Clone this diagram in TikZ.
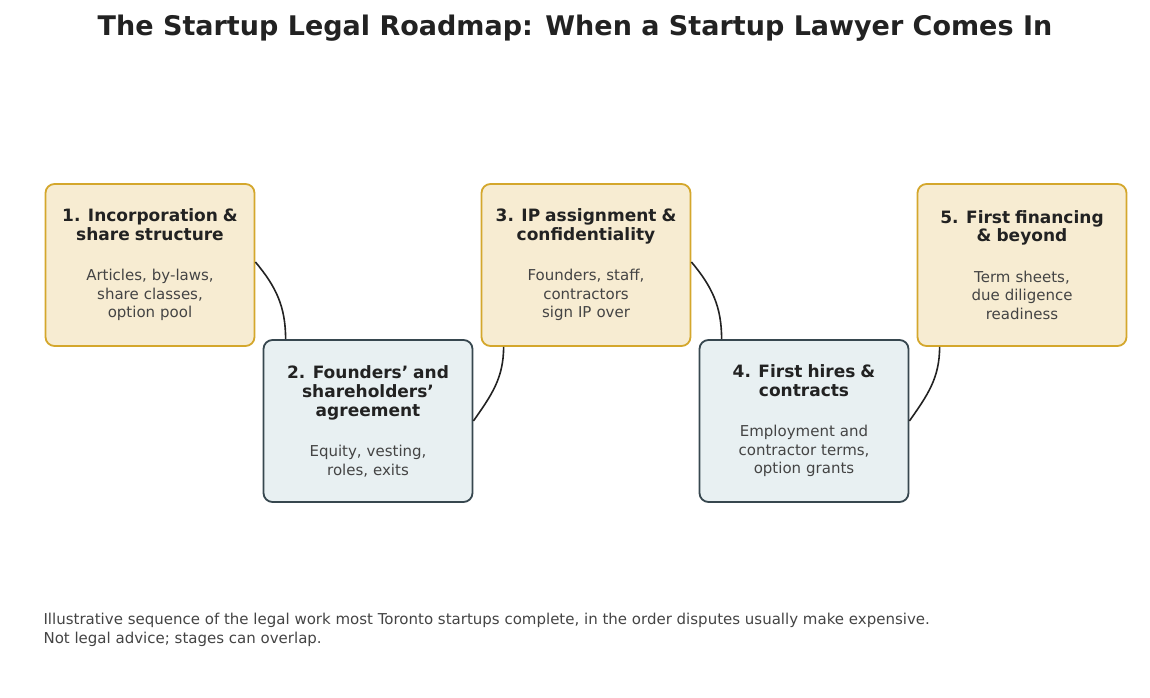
\documentclass[tikz,border=0pt]{standalone}
\usepackage{fontspec}
\setmainfont{DejaVu Sans}
\usetikzlibrary{positioning}
\definecolor{goldline}{HTML}{D4A72C}
\definecolor{goldfill}{HTML}{F7ECD2}
\definecolor{slateline}{HTML}{37474F}
\definecolor{slatefill}{HTML}{E8F0F2}
\definecolor{inkdark}{HTML}{222222}
\definecolor{inkbody}{HTML}{444444}
\tikzset{
	stage/.style={
		rectangle,
		align=center,
		line width=1.8pt,
		minimum width=209pt,
		minimum height=162pt,
		text width=190pt,
		rounded corners=9pt,
		font=\fontsize{15}{18.5}\selectfont,
		text=inkbody
	},
	gold/.style={stage, draw=goldline, fill=goldfill},
	slate/.style={stage, draw=slateline, fill=slatefill},
	link/.style={draw=inkdark, line width=1.6pt}
}
\newcommand{\stagehead}[1]{{\fontsize{17}{19.5}\selectfont\bfseries\color{inkdark}#1}\\[22pt]}
\begin{document}
\begin{tikzpicture}[x=1pt,y=-1pt]
				\useasboundingbox (0,0) rectangle (1150,698);
				\node[font=\fontsize{27}{30}\selectfont\bfseries, text=inkdark] (title) at (575,28) {The Startup Legal Roadmap: When a Startup Lawyer Comes In};
				
				\node[gold] (Inc) at (150,265) {\stagehead{1. Incorporation \&\\ share structure}Articles, by-laws,\\ share classes,\\ option pool};
				\node[slate] (Sha) at (368,421) {\stagehead{2. Founders' and\\ shareholders'\\ agreement}Equity, vesting,\\ roles, exits};
				\node[gold] (IP) at (586,265) {\stagehead{3. IP assignment \&\\ confidentiality}Founders, staff,\\ contractors\\ sign IP over};
				\node[slate] (Hire) at (804,421) {\stagehead{4. First hires \&\\ contracts}Employment and\\ contractor terms,\\ option grants};
				\node[gold] (Fin) at (1022,265) {\stagehead{5. First financing\\ \& beyond}Term sheets,\\ due diligence\\ readiness};
				
				\draw[link] ([yshift=3pt]Inc.east) to[out=-50,in=90] ([xshift=23pt]Sha.north west);
				\draw[link] (Sha.east) to[out=55,in=-90] ([xshift=23pt]IP.south west);
				\draw[link] ([yshift=3pt]IP.east) to[out=-50,in=90] ([xshift=23pt]Hire.north west);
				\draw[link] (Hire.east) to[out=55,in=-90] ([xshift=23pt]Fin.south west);
				
				\node[anchor=north west, align=left, text=inkbody, font=\fontsize{15}{18.5}\selectfont] (note) at (40,610) {Illustrative sequence of the legal work most Toronto startups complete, in the order disputes usually make expensive.\\ Not legal advice; stages can overlap.};
			\end{tikzpicture}
\end{document}
